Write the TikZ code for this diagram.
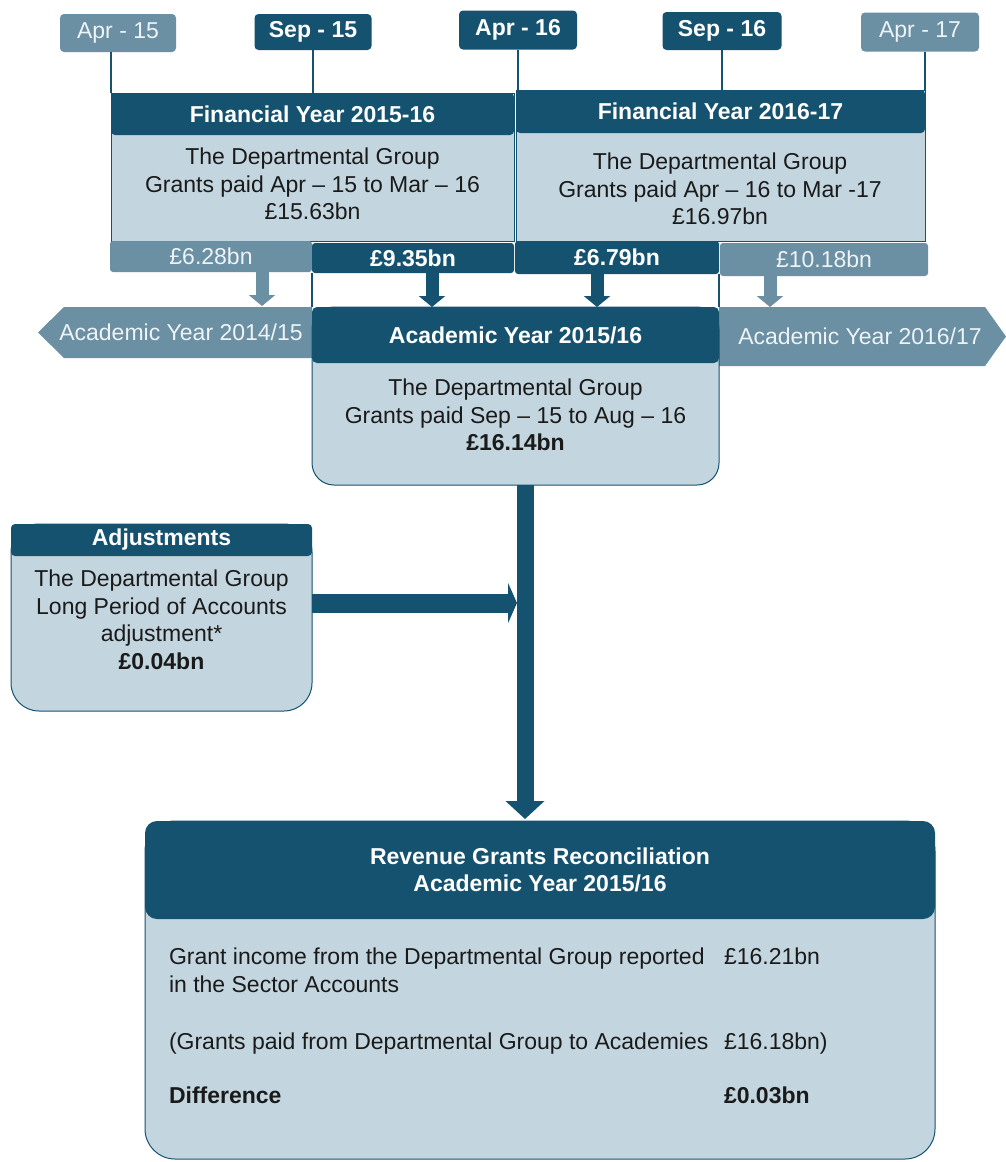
\documentclass[tikz,border=0pt]{standalone}
\usepackage{fontspec}
\setmainfont{Liberation Sans}
\usetikzlibrary{arrows.meta,calc}
\definecolor{dk}{HTML}{15526F}
\definecolor{lt}{HTML}{6B8FA3}
\definecolor{bodyc}{HTML}{C3D6DF}
\definecolor{lttext}{HTML}{EEF3F6}
\definecolor{txt}{HTML}{1A1A1A}
\begin{document}
\begin{tikzpicture}[x=1pt,y=-1pt,
  every node/.style={inner sep=0pt,outer sep=0pt,text=txt,font=\fontsize{23}{27.5}\selectfont},
  tabD/.style={fill=dk,rounded corners=4pt,text=white,font=\fontsize{23}{27.5}\selectfont\bfseries},
  tabL/.style={fill=lt,rounded corners=4pt,text=lttext},
  hdr/.style={fill=dk,rounded corners=4pt,text=white,font=\fontsize{23}{27.5}\selectfont\bfseries,anchor=north west},
  bodyst/.style={fill=bodyc,draw=dk,line width=1pt,anchor=north west},
  barD/.style={fill=dk,rounded corners=3pt,text=white,font=\fontsize{23}{27.5}\selectfont\bfseries,anchor=north west},
  barL/.style={fill=lt,rounded corners=3pt,text=lttext,anchor=north west},
  tick/.style={draw=dk,line width=1.6pt},
  sarrD/.style={draw=dk,line width=13pt,-{Triangle[width=26pt,length=11pt]}},
  sarrL/.style={draw=lt,line width=13pt,-{Triangle[width=26pt,length=11pt]}},
  bigarr/.style={draw=dk,line width=17pt,-{Triangle[width=38pt,length=18pt]}},
  harr/.style={draw=dk,line width=19pt,-{Triangle[width=40pt,length=9pt]}}
]
\useasboundingbox (0,0) rectangle (1006,1162);
\fill[white] (0,0) rectangle (1006,1162);

% date tabs
\node[tabL,minimum width=116pt,minimum height=38pt] (t1) at (118,33) {Apr - 15};
\node[tabD,minimum width=117pt,minimum height=36pt] (t2) at (313,32) {Sep - 15};
\node[tabD,minimum width=118pt,minimum height=39pt] (t3) at (518,30) {Apr - 16};
\node[tabD,minimum width=119pt,minimum height=38pt] (t4) at (722,31) {Sep - 16};
\node[tabL,minimum width=118pt,minimum height=39pt] (t5) at (920,32) {Apr - 17};

% financial year boxes
\node[bodyst,minimum width=403pt,minimum height=148pt] (fy1b) at (111,93) {};
\node[hdr,minimum width=403pt,minimum height=42pt] (fy1h) at (111,93) {Financial Year 2015-16};
\node[align=center] (fy1t) at (312.5,184) {The Departmental Group\\Grants paid Apr – 15 to Mar – 16\\£15.63bn};

\node[bodyst,minimum width=409pt,minimum height=151pt] (fy2b) at (516,90) {};
\node[hdr,minimum width=409pt,minimum height=43pt] (fy2h) at (516,90) {Financial Year 2016-17};
\node[align=center] (fy2t) at (720,189) {The Departmental Group\\Grants paid Apr – 16 to Mar -17\\£16.97bn};

% tick lines
\draw[tick] (t1.south -| fy1b.north west) -- (fy1b.north west);
\draw[tick] (t2.south) -- (t2.south |- fy1h.north);
\draw[tick] (t3.south) -- (t3.south |- fy2h.north);
\draw[tick] (t4.south) -- (t4.south |- fy2h.north);
\draw[tick] (t5.south -| fy2b.north east) -- (fy2b.north east);

% bars
\node[barL,minimum width=202pt,minimum height=31pt] (b628) at (110,241) {£6.28bn};
\node[barD,minimum width=202pt,minimum height=30pt] (b935) at (312,243) {£9.35bn};
\node[barD,minimum width=204pt,minimum height=33pt] (b679) at (515,241) {£6.79bn};
\node[barL,minimum width=208pt,minimum height=33pt] (b1018) at (720,243) {£10.18bn};

% side academic years
\fill[lt] (312,307) -- (64,307) -- (38,332.5) -- (64,358) -- (312,358) -- cycle;
\fill[lt] (719,307) -- (985,307) -- (1006,336.5) -- (985,366) -- (719,366) -- cycle;
\node[text=lttext] (ay14) at (181,332) {Academic Year 2014/15};
\node[text=lttext] (ay16) at (860,336) {Academic Year 2016/17};

% academic year 2015/16 box
\node[bodyst,rounded corners=22pt,minimum width=407pt,minimum height=178pt] (acb) at (312,307) {};
\node[hdr,rounded corners=5pt,minimum width=407pt,minimum height=56pt] (ach) at (312,307) {Academic Year 2015/16};
\node[align=center] (act) at (515.5,415) {The Departmental Group\\Grants paid Sep – 15 to Aug – 16\\\textbf{£16.14bn}};

% lines below bars
\draw[tick] (b935.south west) -- (ach.north west);
\draw[tick] (b679.south east) -- (ach.north east);

% small arrows
\coordinate (a1) at (262,306);
\coordinate (a2) at (432,307);
\coordinate (a3) at (597,307);
\coordinate (a4) at (770,307);
\draw[sarrL] (b628.south -| a1) -- (a1);
\draw[sarrD] (b935.south -| a2) -- (a2);
\draw[sarrD] (b679.south -| a3) -- (a3);
\draw[sarrL] (b1018.south -| a4) -- (a4);

% adjustments box
\node[bodyst,rounded corners=28pt,minimum width=301pt,minimum height=187pt] (adjb) at (11,524) {};
\node[hdr,minimum width=301pt,minimum height=32pt] (adjh) at (11,524) {Adjustments};
\node[align=center] (adjt) at (161.5,620) {The Departmental Group\\Long Period of Accounts\\adjustment*\\\textbf{£0.04bn}};

% bottom box
\node[bodyst,rounded corners=30pt,minimum width=790pt,minimum height=338pt] (botb) at (145,821) {};
\node[hdr,rounded corners=12pt,minimum width=790pt,minimum height=98pt,align=center] (both) at (145,821) {Revenue Grants Reconciliation\\Academic Year 2015/16};
\node[anchor=base west] (l1) at (169,964) {Grant income from the Departmental Group reported};
\node[anchor=base west] (l2) at (169,992) {in the Sector Accounts};
\node[anchor=base west] (l3) at (169,1049) {(Grants paid from Departmental Group to Academies};
\node[anchor=base west,font=\fontsize{23}{27.5}\selectfont\bfseries] (l4) at (169,1103) {Difference};
\node[anchor=base west] (r1) at (724,964) {£16.21bn};
\node[anchor=base west] (r3) at (724,1049) {£16.18bn)};
\node[anchor=base west,font=\fontsize{23}{27.5}\selectfont\bfseries] (r4) at (724,1103) {£0.03bn};

% big arrows
\coordinate (vx) at (525,0);
\coordinate (hy) at (0,603);
\draw[harr,shorten >=8pt] (adjb.east |- hy) -- (vx |- hy);
\draw[bigarr,shorten >=2pt] (acb.south -| vx) -- (botb.north -| vx);
\end{tikzpicture}
\end{document}
